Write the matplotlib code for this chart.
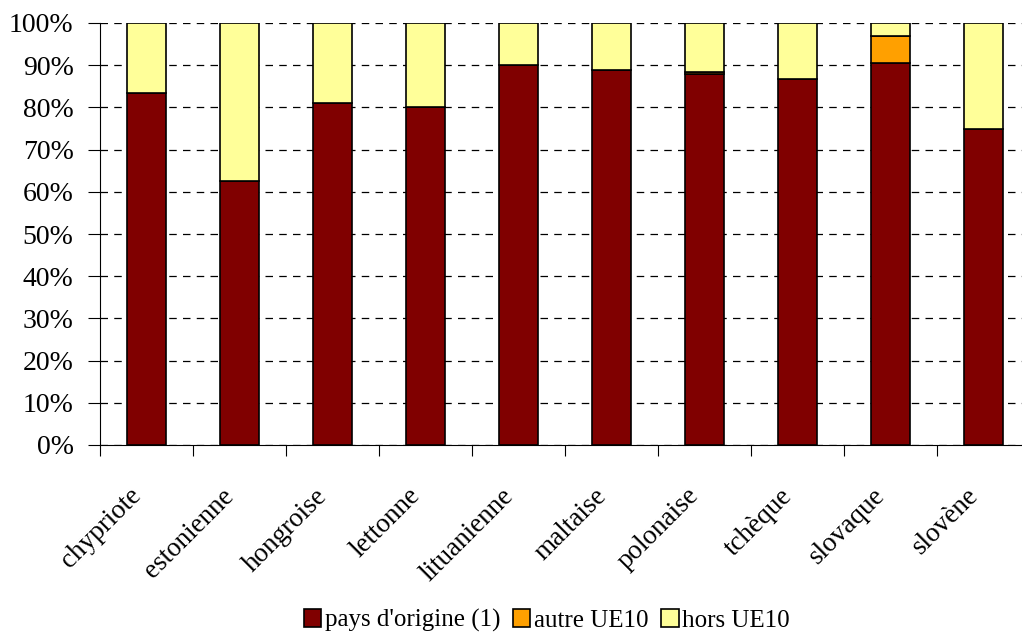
import matplotlib.pyplot as plt
import matplotlib.transforms as mtransforms
import numpy as np

plt.rcParams['font.family'] = ['Liberation Serif', 'DejaVu Serif']

# Nationalities and shares (%)
categories = ['chypriote', 'estonienne', 'hongroise', 'lettonne', 'lituanienne',
              'maltaise', 'polonaise', 'tchèque', 'slovaque', 'slovène']
origine = [83.4, 62.6, 81.0, 80.1, 90.0, 88.9, 87.9, 86.7, 90.5, 74.9]
autre_ue10 = [0.0, 0.0, 0.0, 0.0, 0.0, 0.0, 0.4, 0.0, 6.4, 0.0]
hors_ue10 = [100 - o - a for o, a in zip(origine, autre_ue10)]

labels = ["pays d'origine (1)", 'autre UE10', 'hors UE10']
colors = ['#800000', '#FFA000', '#FFFF99']

fig = plt.figure(figsize=(10.22, 6.32), dpi=100)
ax = fig.add_axes([100 / 1022, 187 / 632, 930 / 1022, 422 / 632])

x = np.arange(len(categories))
w = 0.41
b1 = ax.bar(x, origine, w, color=colors[0], edgecolor='black', linewidth=1.2, label=labels[0], zorder=3)
b2 = ax.bar(x, autre_ue10, w, bottom=origine, color=colors[1], edgecolor='black', linewidth=1.2,
            label=labels[1], zorder=3)
bottom3 = [o + a for o, a in zip(origine, autre_ue10)]
b3 = ax.bar(x, hors_ue10, w, bottom=bottom3, color=colors[2], edgecolor='black', linewidth=1.2,
            label=labels[2], zorder=3)

ax.set_xlim(-0.5, len(categories) - 0.5)
ax.set_ylim(0, 100)
ax.set_yticks(np.arange(0, 101, 10))
ax.set_yticklabels([f'{v}%' for v in range(0, 101, 10)], fontsize=20)
ax.yaxis.grid(True, linestyle=(0, (6, 5)), color='black', linewidth=0.9, zorder=0)

ax.set_xticks(np.arange(-0.5, len(categories), 1))
ax.set_xticklabels([])
ax.set_xticks(x, minor=True)
ax.set_xticklabels(categories, minor=True, rotation=45, ha='right', va='center',
                   rotation_mode='anchor', fontsize=19.5)
ax.tick_params(axis='x', which='minor', length=0, pad=34)
ax.tick_params(axis='x', which='major', length=8, direction='out')
ax.tick_params(axis='y', length=9, direction='out', pad=10)

# nudge the rotated labels a little to the left
shift = mtransforms.ScaledTranslation(-0.09, 0, fig.dpi_scale_trans)
for lbl in ax.get_xticklabels(minor=True):
    lbl.set_transform(lbl.get_transform() + shift)

for side in ['top', 'right']:
    ax.spines[side].set_visible(False)

fig.legend(handles=[b1, b2, b3], labels=labels, loc='lower center', ncol=3, frameon=False,
           fontsize=18, bbox_to_anchor=(0.535, -0.036), handlelength=0.7, handleheight=0.7,
           handletextpad=0.15, columnspacing=0.5)

fig.savefig('out.png', dpi=100)
